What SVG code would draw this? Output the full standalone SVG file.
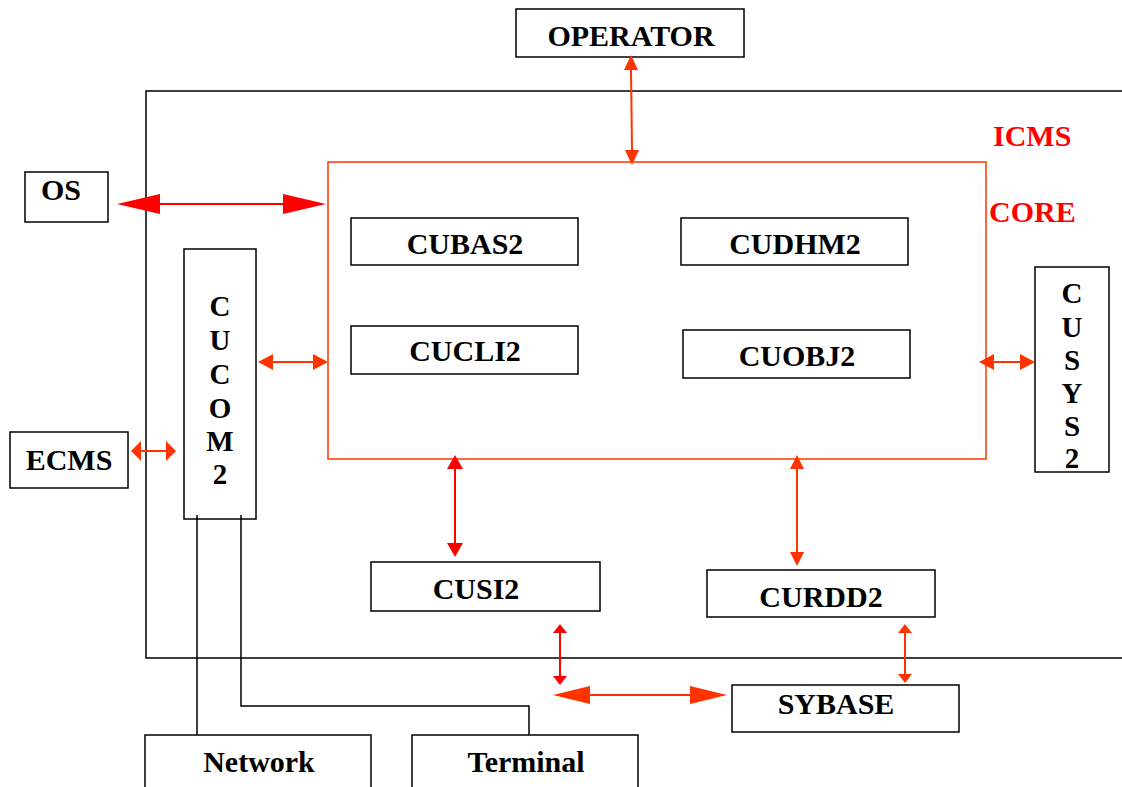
<svg xmlns="http://www.w3.org/2000/svg" width="1122" height="787" viewBox="0 0 1122 787">
<style>
.box{fill:#fff;stroke:#000;stroke-width:1.5}
.t{font-family:"Liberation Serif","Times New Roman",serif;font-weight:bold;font-size:30px;fill:#000;text-anchor:middle}
.v{font-size:29px}
.rt{font-family:"Liberation Serif","Times New Roman",serif;font-weight:bold;font-size:30px;fill:#FF0000}
.r{stroke:#FF0000;stroke-width:2;fill:none}
.o{stroke:#FF3300;stroke-width:2;fill:none}
.ln{stroke:#000;stroke-width:1.5;fill:none}
.fr{fill:#FF0000}
.fo{fill:#FF3300}
</style>
<rect width="1122" height="787" fill="#fff"/>
<g id="icms">
<path class="ln" d="M1122,91 H146 V658 H1122"/>
<text class="rt" x="993" y="146">ICMS</text>
</g>
<g id="core">
<rect x="328" y="162" width="658" height="297" fill="none" stroke="#FF3300" stroke-width="1.5"/>
<text class="rt" x="989" y="222">CORE</text>
</g>
<g id="operator"><rect class="box" x="516" y="9" width="228" height="48"/><text class="t" x="631" y="46">OPERATOR</text></g>
<g id="os"><rect class="box" x="25" y="172" width="83" height="50"/><text class="t" x="61" y="200">OS</text></g>
<g id="cubas2"><rect class="box" x="351" y="218" width="227" height="47"/><text class="t" x="465" y="254">CUBAS2</text></g>
<g id="cudhm2"><rect class="box" x="681" y="218" width="227" height="47"/><text class="t" x="795" y="254">CUDHM2</text></g>
<g id="cucli2"><rect class="box" x="351" y="326" width="227" height="48"/><text class="t" x="465" y="361">CUCLI2</text></g>
<g id="cuobj2"><rect class="box" x="683" y="330" width="227" height="48"/><text class="t" x="797" y="366">CUOBJ2</text></g>
<g id="cucom2"><rect class="box" x="184" y="249" width="72" height="270"/>
<text class="t v" x="220"><tspan x="220" y="316">C</tspan><tspan x="220" y="350">U</tspan><tspan x="220" y="384">C</tspan><tspan x="220" y="418">O</tspan><tspan x="220" y="451">M</tspan><tspan x="220" y="484">2</tspan></text></g>
<g id="cusys2"><rect class="box" x="1035" y="267" width="74" height="205"/>
<text class="t v" x="1072"><tspan x="1072" y="303">C</tspan><tspan x="1072" y="337">U</tspan><tspan x="1072" y="370">S</tspan><tspan x="1072" y="403">Y</tspan><tspan x="1072" y="436">S</tspan><tspan x="1072" y="468">2</tspan></text></g>
<g id="ecms"><rect class="box" x="10" y="432" width="118" height="56"/><text class="t" x="69" y="470">ECMS</text></g>
<g id="cusi2"><rect class="box" x="371" y="562" width="229" height="49"/><text class="t" x="476" y="599">CUSI2</text></g>
<g id="curdd2"><rect class="box" x="707" y="570" width="228" height="47"/><text class="t" x="821" y="607">CURDD2</text></g>
<g id="sybase"><rect class="box" x="732" y="685" width="227" height="47"/><text class="t" x="836" y="714">SYBASE</text></g>
<g id="network"><rect class="box" x="145" y="735" width="226" height="60"/><text class="t" x="259" y="772">Network</text></g>
<g id="terminal"><rect class="box" x="412" y="735" width="226" height="60"/><text class="t" x="526" y="772">Terminal</text></g>
<g id="connectors">
<path class="ln" d="M197,515 V735"/>
<path class="ln" d="M241,515 V706 H529 V735"/>
<line class="o" x1="631" y1="70" x2="632" y2="150"/>
<polygon class="fo" points="631,55 624,70 638,70"/>
<polygon class="fo" points="632,165 625,150 639,150"/>
<line class="r" x1="150" y1="204" x2="290" y2="204"/>
<polygon class="fr" points="117,204 160,194 160,214"/>
<polygon class="fr" points="326,204 283,194 283,214"/>
<line class="o" x1="270" y1="362" x2="316" y2="362"/>
<polygon class="fo" points="258,362 273,354 273,370"/>
<polygon class="fo" points="328,362 313,354 313,370"/>
<line class="o" x1="140" y1="451" x2="168" y2="451"/>
<polygon class="fo" points="131,451 141,441 141,461"/>
<polygon class="fo" points="176,451 166,441 166,461"/>
<line class="o" x1="990" y1="362" x2="1024" y2="362"/>
<polygon class="fo" points="979,362 994,354 994,370"/>
<polygon class="fo" points="1035,362 1020,354 1020,370"/>
<line class="r" x1="455" y1="468" x2="455" y2="545"/>
<polygon class="fr" points="455,455 447,469 463,469"/>
<polygon class="fr" points="455,557 447,543 463,543"/>
<line class="o" x1="797" y1="468" x2="797" y2="554"/>
<polygon class="fo" points="797,455 790,469 804,469"/>
<polygon class="fo" points="797,566 790,552 804,552"/>
<line class="r" x1="560" y1="632" x2="560" y2="677"/>
<polygon class="fr" points="560,624 553,633 567,633"/>
<polygon class="fr" points="560,685 553,676 567,676"/>
<line class="o" x1="585" y1="695" x2="695" y2="695"/>
<polygon class="fo" points="553,695 590,686 590,704"/>
<polygon class="fo" points="727,695 690,686 690,704"/>
<line class="o" x1="905" y1="632" x2="905" y2="675"/>
<polygon class="fo" points="905,624 898,633 912,633"/>
<polygon class="fo" points="905,683 898,674 912,674"/>
</g>
</svg>
